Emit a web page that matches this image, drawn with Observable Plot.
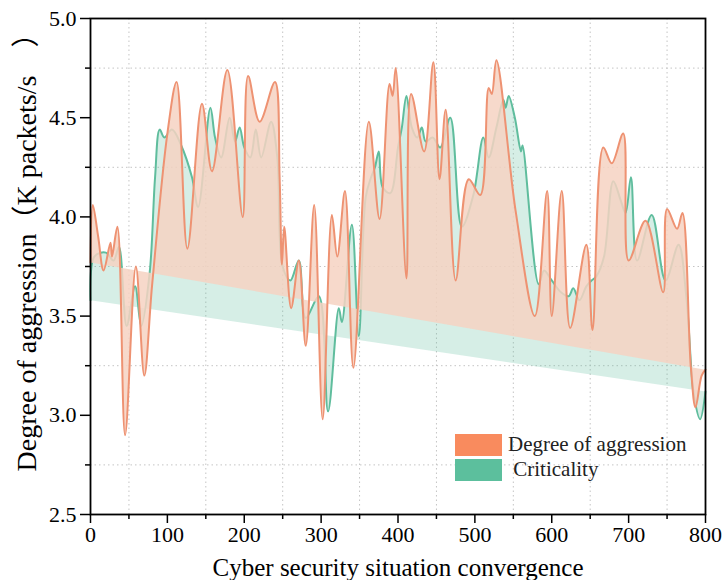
<!DOCTYPE html>
<html>
<head>
<meta charset="utf-8">
<script src="https://cdn.jsdelivr.net/npm/d3@7"></script>
<script src="https://cdn.jsdelivr.net/npm/@observablehq/plot@0.6"></script>
<style>
  body { margin: 0; background: #fff; }
  #wrap { position: relative; width: 726px; height: 580px; overflow: hidden; }
  #legend { position: absolute; left: 455px; top: 432px; font-family: "Liberation Serif", "Times New Roman", serif; font-size: 21px; color: #222; }
  .row { display: flex; align-items: center; height: 25px; }
  .sw { width: 47px; height: 22px; margin-right: 6px; }
</style>
</head>
<body>
<div id="wrap"><div id="legend"></div></div>
<script>
// Degree of aggression (orange)
const aggX = [0,3,10,17,26,28,35,45,59,70,80,100,112,126,145,158,178,198,205,220,240,246,249,252,261,271,280,291,302,314,321,331,342,362,376,389,393,397,411,417,434,446,454,462,475,492,507,518,522,528,553,578,594,600,613,624,645,653,667,678,693,700,722,745,750,763,770,781,787,795,800];
const aggV = [3.77,4.06,3.90,3.73,3.87,3.80,3.95,2.90,3.75,3.20,3.65,4.42,4.68,3.84,4.57,4.23,4.74,4.00,4.71,4.48,4.68,4.20,3.76,3.95,3.54,3.78,3.35,4.06,2.98,4.01,3.80,4.13,3.24,4.48,3.99,4.67,4.61,4.75,3.69,4.62,4.33,4.78,4.19,4.54,3.68,4.19,4.11,4.65,4.62,4.79,4.03,3.50,4.13,3.50,4.13,3.44,3.86,3.43,4.35,4.27,4.42,3.78,3.98,3.62,4.04,3.94,4.02,3.24,3.04,3.20,3.23];
// Criticality (green)
const critX = [0,5,20,30,37,47,58,66,77,84,90,96,106,118,132,140,156,162,170,181,188,194,200,208,215,222,235,243,250,260,271,280,297,309,323,327,340,349,358,365,370,375,380,390,400,405,411,418,425,431,436,445,455,468,483,498,511,518,528,537,540,544,552,560,562,583,590,600,612,622,628,636,645,652,658,668,680,690,696,703,711,730,748,765,775,785,793,800];
const critV = [3.58,3.80,3.82,3.78,3.85,3.45,3.65,3.45,3.72,4.20,4.44,4.40,4.44,4.36,4.20,4.05,4.55,4.40,4.30,4.50,4.38,4.45,4.35,4.30,4.44,4.30,4.48,4.30,3.75,3.68,3.78,3.49,3.60,3.02,3.54,3.47,3.96,3.40,4.10,4.20,4.25,4.33,4.15,4.12,4.35,4.45,4.61,4.45,4.40,4.45,4.38,4.40,4.35,4.50,3.95,4.11,4.40,4.30,4.45,4.59,4.55,4.61,4.50,4.33,4.36,3.66,3.73,3.68,3.62,3.60,3.64,3.58,3.65,3.68,3.70,3.80,4.18,4.08,4.02,4.20,3.78,4.01,3.68,3.86,3.60,3.10,2.98,3.12];

const xMajor = [0,100,200,300,400,500,600,700,800];
const xMinor = [50,150,250,350,450,550,650,750];
const yMajor = [2.5,3.0,3.5,4.0,4.5,5.0];
const yMinor = [2.75,3.25,3.75,4.25,4.75];
const seriesNames = ["Degree of aggression", "Criticality"];
const seriesColors = ["#f98b5e", "#5cbf9d"];
const xTitle = "Cyber security situation convergence";
const yTitle = "Degree of aggression（K packets/s\u3000）";

const agg = aggX.map((x, i) => ({x, y: aggV[i]}));
const crit = critX.map((x, i) => ({x, y: critV[i]}));
const curve = "catmull-rom";

const chart = Plot.plot({
  width: 726, height: 580,
  marginLeft: 90, marginRight: 21, marginTop: 18, marginBottom: 66,
  x: {domain: [0, 800]},
  y: {domain: [2.5, 5.0]},
  style: {fontFamily: "'Liberation Serif', 'Times New Roman', serif", fontSize: "22px", background: "white", color: "black"},
  marks: [
    Plot.gridX(xMinor, {stroke: "#c4c4c4", strokeOpacity: 1, strokeDasharray: "1.5,3"}),
    Plot.gridY(yMinor, {stroke: "#c4c4c4", strokeOpacity: 1, strokeDasharray: "1.5,3"}),
    Plot.line(crit, {x: "x", y: "y", curve, fill: "#5fbf9f", fillOpacity: 0.26, stroke: "none"}),
    Plot.line(crit, {x: "x", y: "y", curve, stroke: "#5fbd9d", strokeWidth: 2}),
    Plot.line(agg, {x: "x", y: "y", curve, fill: "#f6d2c2", fillOpacity: 0.85, stroke: "none"}),
    Plot.line(agg, {x: "x", y: "y", curve, stroke: "#ee9272", strokeWidth: 2}),
    Plot.axisX(xMajor, {tickSize: 9, tickPadding: 3, label: null, stroke: "black", strokeWidth: 1.5}),
    Plot.axisX(xMinor, {tickSize: 5, tickFormat: () => "", label: null, stroke: "black", strokeWidth: 1.5}),
    Plot.axisY(yMajor, {tickSize: 10, tickPadding: 4, tickFormat: d => d.toFixed(1), label: null, stroke: "black", strokeWidth: 1.5}),
    Plot.axisY(yMinor, {tickSize: 5, tickFormat: () => "", label: null, stroke: "black", strokeWidth: 1.5}),
    Plot.frame({stroke: "black", strokeWidth: 1.8}),
    Plot.text([xTitle], {frameAnchor: "bottom", dy: 53, fontSize: 25, lineAnchor: "middle", textAnchor: "middle"}),
    Plot.text([yTitle], {frameAnchor: "left", rotate: -90, dx: -63, dy: -21, fontSize: 28, lineAnchor: "middle", textAnchor: "middle", fontFamily: "'Liberation Serif', 'Noto Sans CJK SC', serif"})
  ]
});
const wrap = document.getElementById("wrap");
wrap.insertBefore(chart, wrap.firstChild);

const legend = document.getElementById("legend");
seriesNames.forEach((name, i) => {
  const row = document.createElement("div");
  row.className = "row";
  const sw = document.createElement("div");
  sw.className = "sw";
  sw.style.background = seriesColors[i];
  const label = document.createElement("span");
  label.textContent = (i === 1 ? "\u00a0" : "") + name;
  row.appendChild(sw);
  row.appendChild(label);
  legend.appendChild(row);
});
</script>
</body>
</html>
